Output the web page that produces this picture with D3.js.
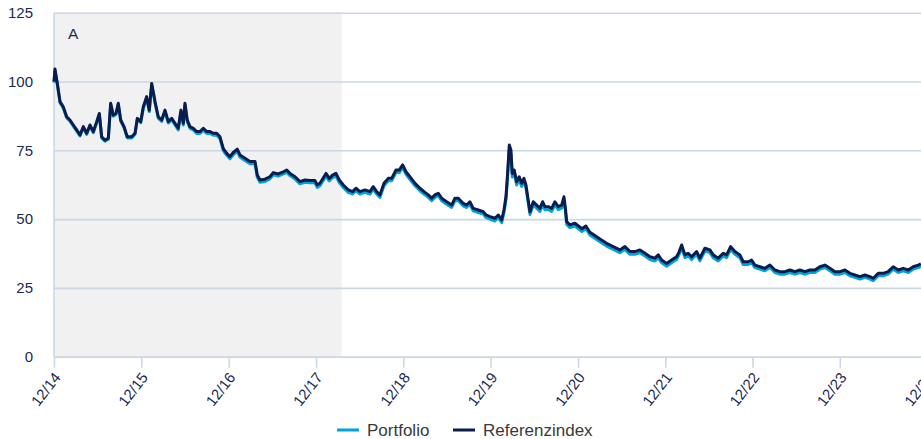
<!DOCTYPE html>
<html>
<head>
<meta charset="utf-8">
<script src="https://cdn.jsdelivr.net/npm/d3@7/dist/d3.min.js"></script>
<style>
  body { margin: 0; background: #fff; }
  svg { display: block; font-family: "Liberation Sans", Arial, sans-serif; }
</style>
</head>
<body>
<script>
// Time in years after 31.12.2014 (the "12/14" tick)
var tYears = [0, 0.011, 0.038, 0.069, 0.106, 0.145, 0.183, 0.221, 0.260, 0.298, 0.336, 0.374, 0.412, 0.450, 0.489, 0.519, 0.546, 0.584, 0.622, 0.649, 0.679, 0.710, 0.736, 0.764, 0.802, 0.839, 0.890, 0.928, 0.954, 0.993,
  1.023, 1.061, 1.091, 1.119, 1.157, 1.194, 1.233, 1.271, 1.309, 1.348, 1.386, 1.423, 1.454, 1.481, 1.500, 1.526, 1.557, 1.595, 1.634, 1.672, 1.710, 1.749, 1.787, 1.824, 1.863, 1.901, 1.939, 1.978,
  2.015, 2.053, 2.099, 2.130, 2.187, 2.244, 2.302, 2.328, 2.359, 2.416, 2.473, 2.511, 2.568, 2.626, 2.665, 2.702, 2.760, 2.817, 2.874, 2.931, 2.989,
  3.015, 3.046, 3.115, 3.152, 3.191, 3.229, 3.267, 3.313, 3.370, 3.420, 3.458, 3.504, 3.561, 3.618, 3.656, 3.695, 3.733, 3.779, 3.828, 3.867, 3.916, 3.954, 3.993,
  4.031, 4.076, 4.134, 4.191, 4.248, 4.286, 4.325, 4.363, 4.401, 4.439, 4.497, 4.554, 4.592, 4.630, 4.687, 4.726, 4.763, 4.801, 4.859, 4.916, 4.947, 4.993,
  5.050, 5.088, 5.127, 5.153, 5.176, 5.195, 5.214, 5.233, 5.248, 5.271, 5.298, 5.328, 5.356, 5.382, 5.405, 5.431, 5.451, 5.489, 5.527, 5.565, 5.596, 5.622, 5.660, 5.699, 5.737, 5.775, 5.814, 5.840, 5.859, 5.871, 5.909, 5.966,
  6.046, 6.091, 6.137, 6.194, 6.252, 6.328, 6.404, 6.481, 6.538, 6.596, 6.653, 6.710, 6.768, 6.825, 6.882, 6.920, 6.959,
  7.016, 7.073, 7.130, 7.160, 7.188, 7.226, 7.263, 7.302, 7.360, 7.397, 7.454, 7.512, 7.549, 7.607, 7.664, 7.703, 7.749, 7.798, 7.855, 7.893, 7.950, 7.989,
  8.027, 8.084, 8.141, 8.199, 8.256, 8.313, 8.370, 8.428, 8.485, 8.542, 8.599, 8.657, 8.714, 8.771, 8.829, 8.886, 8.943,
  9.001, 9.058, 9.115, 9.172, 9.230, 9.287, 9.344, 9.382, 9.440, 9.496, 9.553, 9.611, 9.668, 9.725, 9.783, 9.840, 9.897, 9.928];

var referenzindex = [100, 104.5, 99.3, 92.7, 90.8, 87.2, 86, 84.2, 82.4, 80.6, 83.6, 81.2, 84.2, 81.8, 85.4, 88.4, 79.9, 78.7, 79.4, 92.1, 87.8, 88.4, 92.1, 86, 83.6, 79.9, 79.9, 81.2, 86.6, 85.4,
  90.8, 94.5, 89.6, 99.3, 92.7, 87.2, 86, 89.6, 85.4, 86.6, 84.8, 83, 89.6, 84.8, 92.1, 86, 83.6, 83, 81.8, 81.8, 83, 81.8, 81.8, 81.2, 81.2, 79.9, 75.6, 73.9,
  72.7, 74.2, 75.4, 73.3, 72.1, 70.9, 70.9, 66, 64.2, 64.5, 65.4, 66.9, 66.4, 67.2, 67.8, 66.6, 65.4, 63.6, 64.2, 64, 64,
  62.4, 63, 66.6, 64.8, 66, 66.6, 64.2, 62.4, 60.6, 60, 61.2, 60, 60.6, 60, 61.8, 60, 58.8, 63, 64.8, 64.8, 67.8, 67.8, 69.7,
  67.2, 65.4, 63, 61.2, 59.7, 58.8, 57.6, 58.8, 59.4, 57.6, 56.3, 55.1, 57.6, 57.6, 55.7, 55.1, 56.3, 53.9, 53.3, 52.7, 51.5, 50.9,
  50.3, 51.5, 49.7, 53.3, 58.1, 66.6, 76.9, 75.1, 66.6, 67.8, 63.6, 65.4, 63, 64.8, 62.4, 56.9, 52.7, 56.3, 55.1, 53.9, 56.3, 54.5, 54.5, 53.9, 56.3, 54.5, 55.1, 58.1, 53.3, 49.1, 47.9, 48.5,
  46.5, 47.5, 45.2, 44, 42.8, 41.2, 40, 38.8, 40, 38.2, 38.2, 38.8, 37.6, 36.3, 35.8, 37, 35.1,
  33.9, 35.1, 36.3, 38.2, 40.6, 37, 37.6, 36.3, 38.2, 35.8, 39.4, 38.8, 37, 35.8, 37.6, 37, 40, 38.2, 37, 34.5, 34.5, 35.1,
  33.3, 32.7, 32.1, 33.3, 31.5, 30.9, 30.9, 31.5, 30.9, 31.5, 30.9, 31.5, 31.5, 32.7, 33.3, 32.1, 30.9,
  30.9, 31.5, 30.3, 29.7, 29.1, 29.7, 29.1, 28.5, 30.3, 30.3, 30.9, 32.7, 31.5, 32.1, 31.5, 32.7, 33.3, 33.7];

var portfolio = [99.6, 104, 98.9, 92.3, 90.4, 86.8, 85.6, 83.8, 82, 80.2, 83.2, 80.8, 83.8, 81.4, 85, 88, 79.5, 78.3, 79, 91.7, 87.4, 88, 91.7, 85.6, 83.2, 79.5, 79.5, 80.8, 86.2, 85,
  90.3, 94, 89.1, 98.8, 92.2, 86.7, 85.5, 89.1, 84.9, 86.1, 84.2, 82.4, 89, 84.2, 91.5, 85.4, 83, 82.4, 81.1, 81.1, 82.3, 81.1, 81.1, 80.5, 80.5, 79.2, 74.9, 73.2,
  71.9, 73.4, 74.6, 72.5, 71.3, 70.1, 70.1, 65.2, 63.4, 63.7, 64.6, 66.1, 65.6, 66.4, 67, 65.8, 64.6, 62.8, 63.4, 63.2, 63.2,
  61.5, 62.1, 65.7, 63.9, 65.1, 65.7, 63.3, 61.5, 59.7, 59.1, 60.3, 59.1, 59.7, 59.1, 60.9, 59.1, 57.9, 62.1, 63.9, 63.9, 66.9, 66.9, 68.8,
  66.3, 64.5, 62.1, 60.3, 58.8, 57.9, 56.7, 57.9, 58.5, 56.7, 55.4, 54.2, 56.7, 56.7, 54.8, 54.2, 55.4, 53, 52.4, 51.8, 50.6, 50,
  49.3, 50.5, 48.7, 52.3, 57, 65.3, 75.4, 73.7, 65.3, 66.6, 62.4, 64.2, 61.9, 63.7, 61.3, 55.8, 51.7, 55.2, 54, 52.8, 55.2, 53.4, 53.4, 52.8, 55.2, 53.4, 54, 57, 52.3, 48.1, 46.9, 47.5,
  45.5, 46.5, 44.2, 43, 41.8, 40.2, 39, 37.8, 39, 37.2, 37.2, 37.8, 36.6, 35.3, 34.8, 36, 34.1,
  32.9, 34.1, 35.3, 37.2, 39.6, 36, 36.6, 35.3, 37.2, 34.8, 38.4, 37.8, 36, 34.8, 36.6, 36, 39, 37.2, 36, 33.5, 33.5, 34.1,
  32.4, 31.8, 31.2, 32.4, 30.6, 30, 30, 30.6, 30, 30.6, 30, 30.6, 30.6, 31.8, 32.4, 31.2, 30,
  30, 30.6, 29.4, 28.8, 28.2, 28.8, 28.2, 27.6, 29.4, 29.4, 30, 31.8, 30.6, 31.2, 30.6, 31.8, 32.4, 32.8];

var yTicks = [0, 25, 50, 75, 100, 125];
var tickYears = [2014, 2015, 2016, 2017, 2018, 2019, 2020, 2021, 2022, 2023, 2024];
var shadeEnd = 3.294;        // shaded phase "A" ends (years after start)
var shadeLabel = "A";
var seriesNames = ["Portfolio", "Referenzindex"];
var seriesColors = ["#00a3e0", "#0b1d4d"];

// Chart geometry
var outerWidth = 921,
    outerHeight = 439,
    plotLeft = 54, plotTop = 12.7, plotBottom = 356.7,
    yearPx = 87.33;

var start = new Date(2014, 11, 31);
function toDate(t) { return new Date(start.getTime() + t * 365.25 * 864e5); }

var svg = d3.select("body").append("svg")
    .attr("width", outerWidth)
    .attr("height", outerHeight);

var xScale = d3.scaleTime()
    .domain([start, new Date(2024, 11, 31)])
    .range([plotLeft, plotLeft + 10 * yearPx]);
var yScale = d3.scaleLinear()
    .domain([0, 125])
    .range([plotBottom, plotTop]);

// Shaded phase
svg.append("rect")
    .attr("x", xScale(start))
    .attr("y", yScale(125))
    .attr("width", xScale(toDate(shadeEnd)) - xScale(start))
    .attr("height", yScale(0) - yScale(125))
    .attr("fill", "#f1f1f1");

svg.append("text")
    .attr("x", plotLeft + 14)
    .attr("y", 39)
    .attr("fill", "#1b2a56")
    .attr("font-size", 15.5)
    .text(shadeLabel);

// Horizontal grid
var yAxis = svg.append("g")
    .attr("class", "y axis")
    .attr("transform", "translate(" + plotLeft + ",0)")
    .call(d3.axisLeft(yScale).tickValues(yTicks).tickSize(-(outerWidth - plotLeft)).tickPadding(21));
yAxis.select(".domain").remove();
yAxis.selectAll("line")
    .attr("stroke", "#ccd6e5")
    .attr("stroke-width", 1.6);
yAxis.selectAll("text")
    .attr("fill", "#1b2a56")
    .attr("font-size", 15)
    .attr("font-family", "Liberation Sans, Arial, sans-serif");

// Left axis line
svg.append("line")
    .attr("x1", plotLeft).attr("x2", plotLeft)
    .attr("y1", yScale(125)).attr("y2", yScale(0))
    .attr("stroke", "#ccd6e5")
    .attr("stroke-width", 1.6);

// Bottom axis
var xAxis = svg.append("g")
    .attr("class", "x axis")
    .attr("transform", "translate(0," + plotBottom + ")")
    .call(d3.axisBottom(xScale)
        .tickValues(tickYears.map(function (y) { return new Date(y, 11, 31); }))
        .tickFormat(d3.timeFormat("%m/%y"))
        .tickSize(11)
        .tickSizeOuter(0));
xAxis.select(".domain")
    .attr("stroke", "#ccd6e5")
    .attr("stroke-width", 1.6);
xAxis.selectAll("line")
    .attr("stroke", "#ccd6e5")
    .attr("stroke-width", 1.6);
xAxis.selectAll("text")
    .attr("fill", "#1b2a56")
    .attr("font-size", 15)
    .attr("font-family", "Liberation Sans, Arial, sans-serif")
    .attr("text-anchor", "end")
    .attr("y", 0)
    .attr("dy", 0)
    .attr("transform", "translate(7,21) rotate(-52)");

// Lines
var line = d3.line()
    .x(function (d) { return xScale(toDate(d.t)); })
    .y(function (d) { return yScale(d.v); });

[portfolio, referenzindex].forEach(function (values, k) {
    svg.append("path")
        .datum(values.map(function (v, i) { return { t: tYears[i], v: v }; }))
        .attr("fill", "none")
        .attr("stroke", seriesColors[k])
        .attr("stroke-width", 3)
        .attr("stroke-linejoin", "round")
        .attr("d", line);
});

// Legend
var legend = svg.append("g")
    .attr("font-size", 17)
    .selectAll("g")
    .data(seriesNames)
    .enter().append("g")
        .attr("transform", function (d, i) { return "translate(" + (i === 0 ? 337 : 453) + ",430)"; });

legend.append("line")
    .attr("x1", 0).attr("x2", 22)
    .attr("stroke", function (d, i) { return seriesColors[i]; })
    .attr("stroke-width", 3);
legend.append("text")
    .attr("x", 30)
    .attr("dy", "0.35em")
    .attr("fill", "#3a3a3a")
    .text(function (d) { return d; });
</script>
</body>
</html>
